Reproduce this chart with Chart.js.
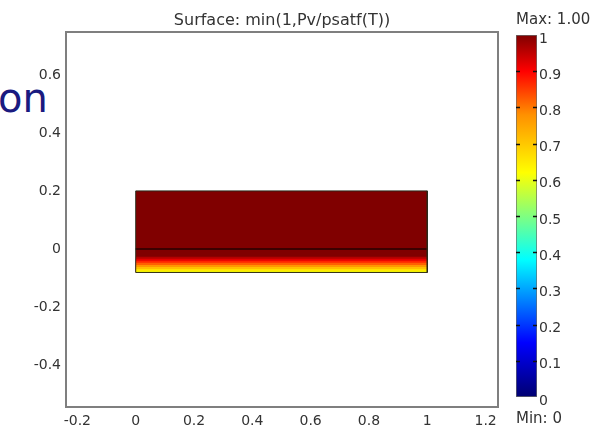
<!DOCTYPE html>
<html><head><meta charset="utf-8">
<script src="https://cdn.jsdelivr.net/npm/chart.js@4"></script>
<style>
html,body{margin:0;padding:0;background:#fff;overflow:hidden}
#wrap{position:relative;width:600px;height:429px;overflow:hidden}
#main{position:absolute;left:0;top:0}
#cbar{position:absolute;left:500px;top:0}
#on{position:absolute;left:-2px;top:78px;font-family:"DejaVu Sans";font-size:40px;line-height:40px;color:#1a1a80;white-space:nowrap}
</style></head><body>
<div id="wrap">
<div id="on">on</div>
<canvas id="main" width="600" height="429"></canvas>
<canvas id="cbar" width="100" height="429"></canvas>
</div>
<script>
// ---- data ----
const titleText = 'Surface: min(1,Pv/psatf(T))';
const maxText = 'Max: 1.00';
const minText = 'Min: 0';
const xTicks = [-0.2, 0, 0.2, 0.4, 0.6, 0.8, 1, 1.2];
const yTicks = [-0.4, -0.2, 0, 0.2, 0.4, 0.6];
const cbTicks = [0, 0.1, 0.2, 0.3, 0.4, 0.5, 0.6, 0.7, 0.8, 0.9, 1];
const cbTickMarks = [0.1, 0.2, 0.3, 0.4, 0.5, 0.6, 0.7, 0.8, 0.9];
const xRange = [-0.239, 1.2425];
const yRange = [-0.545, 0.748];
const domainX = [0, 1];
const domainTop = 0.2;
const interfaceY = 0;
const domainBottom = -0.081;
// horizontal bands of the surface plot: top edge of each band and its value (bands extend down to domainBottom, later ones painted over)
const bandTops = [0.2, -0.027, -0.034, -0.041, -0.048, -0.055, -0.062, -0.069, -0.075];
const bandValues = [1.0, 0.96, 0.92, 0.87, 0.82, 0.77, 0.71, 0.66, 0.62];
// colour table
const cmapStops = [0, 0.15, 0.38, 0.5, 0.62, 0.78, 0.9, 1];
const cmapColors = [[0,0,112],[0,0,255],[0,255,255],[128,255,128],[255,255,0],[255,144,0],[255,0,0],[128,0,0]];

function rgb(c){return 'rgb('+c.map(Math.round).join(',')+')';}
function cmap(v){
  if (v <= cmapStops[0]) return rgb(cmapColors[0]);
  for (let i=1;i<cmapStops.length;i++){
    if (v <= cmapStops[i]){
      const t=(v-cmapStops[i-1])/(cmapStops[i]-cmapStops[i-1]);
      const a=cmapColors[i-1], b=cmapColors[i];
      return rgb([a[0]+(b[0]-a[0])*t, a[1]+(b[1]-a[1])*t, a[2]+(b[2]-a[2])*t]);
    }
  }
  return rgb(cmapColors[cmapColors.length-1]);
}
const FONT = 'DejaVu Sans';
const TXT = '#333';
const fmt = v => String(+Number(v).toFixed(2));

const datasets = [];
datasets.push({
  label:'outline', order:0,
  data:[{x:domainX[0],y:domainTop},{x:domainX[1],y:domainTop},{x:domainX[1],y:domainBottom},{x:domainX[0],y:domainBottom},{x:domainX[0],y:domainTop}],
  borderColor:'#2a2a1a', borderWidth:1, pointRadius:0, fill:false, tension:0
});
datasets.push({
  label:'interface', order:0,
  data:[{x:domainX[0],y:interfaceY},{x:domainX[1],y:interfaceY}],
  borderColor:'#3c0000', borderWidth:2, pointRadius:0, fill:false
});
bandTops.forEach((top,i)=>{
  datasets.push({
    label:'band'+i, order: bandTops.length - i,
    data:[{x:domainX[0],y:top},{x:domainX[1],y:top}],
    borderWidth:0, pointRadius:0,
    backgroundColor: cmap(bandValues[i]),
    fill:{value:domainBottom}
  });
});

const framePlugin = {
  id:'frame',
  afterDatasetsDraw(chart){
    const {ctx, chartArea:a} = chart;
    ctx.save();
    ctx.strokeStyle='#7f7f7f'; ctx.lineWidth=2;
    ctx.strokeRect(a.left, a.top, a.right-a.left, a.bottom-a.top);
    ctx.restore();
  }
};

new Chart(document.getElementById('main'), {
  type:'line',
  data:{datasets},
  options:{
    responsive:false, animation:false, events:[],
    layout:{padding:{left:0,right:102,top:0,bottom:0}, autoPadding:false},
    plugins:{
      legend:{display:false}, tooltip:{enabled:false},
      title:{display:true, fullSize:false, text:titleText, color:TXT, font:{family:FONT,size:16,weight:'normal'}, padding:{top:11,bottom:1.8}}
    },
    scales:{
      x:{type:'linear', min:xRange[0], max:xRange[1],
         afterBuildTicks:s=>{s.ticks = xTicks.map(v=>({value:v}));},
         afterFit:s=>{s.height=22;},
         grid:{display:false, drawTicks:false}, border:{display:false},
         ticks:{callback:fmt, color:TXT, font:{family:FONT,size:14}, padding:6, maxRotation:0, autoSkip:false}},
      y:{type:'linear', min:yRange[0], max:yRange[1],
         afterBuildTicks:s=>{s.ticks = yTicks.map(v=>({value:v}));},
         afterFit:s=>{s.width=66;},
         grid:{display:false, drawTicks:false}, border:{display:false},
         ticks:{callback:fmt, color:TXT, font:{family:FONT,size:14}, padding:5, autoSkip:false}}
    }
  },
  plugins:[framePlugin]
});

// ---- colour bar ----
const cbMarks = {
  id:'cbMarks',
  afterDatasetsDraw(chart){
    const {ctx, chartArea:a} = chart; const ys = chart.scales.y;
    ctx.save(); ctx.strokeStyle='#111'; ctx.lineWidth=1.5;
    cbTickMarks.forEach(v=>{
      const y = Math.round(ys.getPixelForValue(v))+0.5;
      ctx.beginPath(); ctx.moveTo(a.left,y); ctx.lineTo(a.left+4,y);
      ctx.moveTo(a.right-4,y); ctx.lineTo(a.right,y); ctx.stroke();
    });
    ctx.restore();
  }
};
new Chart(document.getElementById('cbar'), {
  type:'bar',
  data:{labels:['cb'], datasets:[{
    data:[[cbTicks[0], cbTicks[cbTicks.length-1]]],
    backgroundColor:(c)=>{
      const ch=c.chart, ys=ch.scales.y;
      if(!ch.chartArea || !ys) return cmap(1);
      const g=ch.ctx.createLinearGradient(0, ys.getPixelForValue(0), 0, ys.getPixelForValue(1));
      cmapStops.forEach((s,i)=>g.addColorStop(s, rgb(cmapColors[i])));
      return g;
    },
    borderColor:'#6a6a6a', borderWidth:1, borderSkipped:false,
    barPercentage:1, categoryPercentage:1
  }]},
  options:{
    responsive:false, animation:false, events:[],
    layout:{padding:{left:16,right:0,top:0,bottom:0}, autoPadding:false},
    plugins:{
      legend:{display:false}, tooltip:{enabled:false},
      title:{display:true, text:maxText, align:'start', color:TXT, font:{family:FONT,size:15,weight:'normal'}, padding:{top:11.5,bottom:5.5}},
      subtitle:{display:true, text:minText, position:'bottom', align:'start', color:TXT, font:{family:FONT,size:15,weight:'normal'}, padding:{top:13,bottom:1}}
    },
    scales:{
      x:{display:false},
      y:{position:'right', min:0, max:1,
         afterBuildTicks:s=>{s.ticks = cbTicks.map(v=>({value:v}));},
         afterFit:s=>{s.width=63;},
         grid:{display:false, drawTicks:false}, border:{display:false},
         ticks:{callback:fmt, color:TXT, font:{family:FONT,size:14}, padding:2, labelOffset:4, autoSkip:false}}
    }
  },
  plugins:[cbMarks]
});
</script>
</body></html>
